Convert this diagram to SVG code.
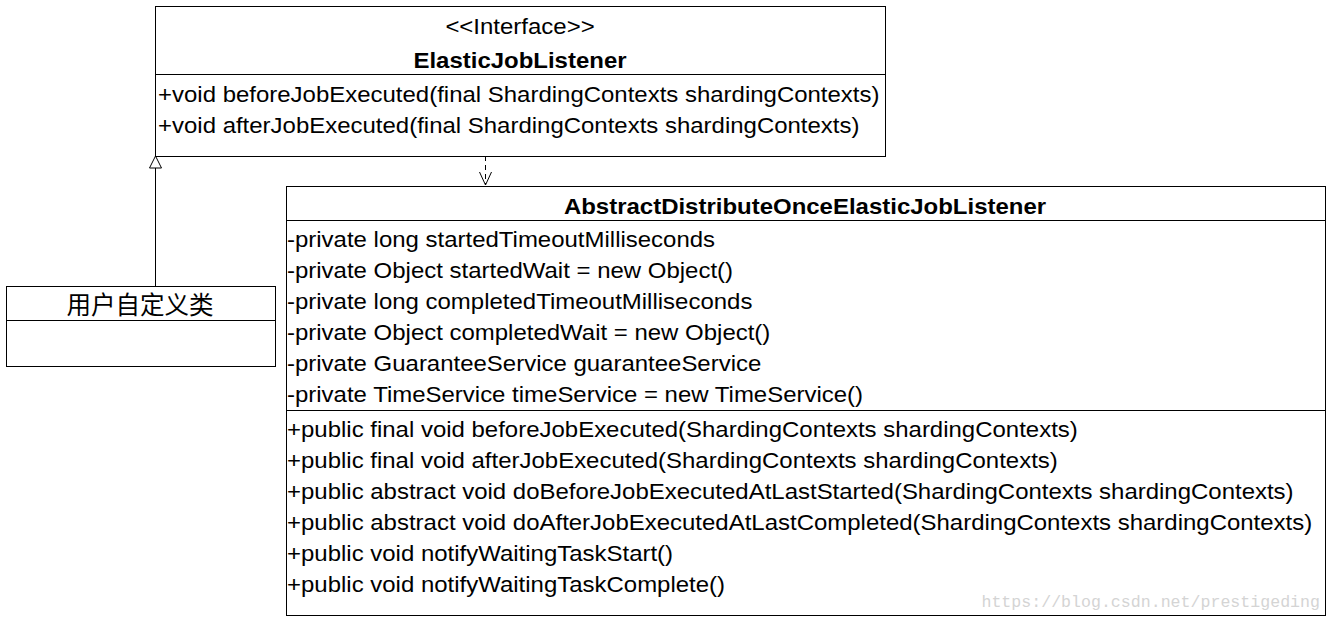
<svg xmlns="http://www.w3.org/2000/svg" width="1332" height="621" viewBox="0 0 1332 621">
<style>
.box{fill:#fff;stroke:#000;stroke-width:1}
.t{font-family:"Liberation Sans",Arial,sans-serif;font-size:22px;fill:#000}
.b{font-weight:bold}
.c{text-anchor:middle}
.ln{stroke:#000;stroke-width:1;fill:none}
</style>
<rect width="1332" height="621" fill="#fff"/>
<g id="connectors">
<line class="ln" x1="155.5" y1="286" x2="155.5" y2="168"/>
<path d="M149.5,168 L155.5,156 L161.5,168 Z" fill="#fff" stroke="#000"/>
<line class="ln" x1="485.5" y1="156" x2="485.5" y2="185" stroke-dasharray="5,4"/>
<path class="ln" d="M479.5,172 L485.5,185 L491.5,172"/>
</g>
<g id="ElasticJobListener">
<rect class="box" x="155.5" y="6.5" width="730" height="150"/>
<line class="ln" x1="155.5" y1="74.5" x2="885.5" y2="74.5"/>
<text class="t c" transform="translate(520,34) scale(1.09,1)">&lt;&lt;Interface&gt;&gt;</text>
<text class="t b c" transform="translate(520,68) scale(1.09,1)">ElasticJobListener</text>
<text class="t" transform="translate(158,102) scale(1.09,1)">+void beforeJobExecuted(final ShardingContexts shardingContexts)</text>
<text class="t" transform="translate(158,133) scale(1.09,1)">+void afterJobExecuted(final ShardingContexts shardingContexts)</text>
</g>
<g id="AbstractDistributeOnceElasticJobListener">
<rect class="box" x="286.5" y="186.5" width="1039" height="429"/>
<line class="ln" x1="286.5" y1="220.5" x2="1325.5" y2="220.5"/>
<line class="ln" x1="286.5" y1="410.5" x2="1325.5" y2="410.5"/>
<text class="t b c" transform="translate(805,214) scale(1.09,1)">AbstractDistributeOnceElasticJobListener</text>
<text class="t" transform="translate(287,247) scale(1.09,1)">-private long startedTimeoutMilliseconds</text>
<text class="t" transform="translate(287,278) scale(1.09,1)">-private Object startedWait = new Object()</text>
<text class="t" transform="translate(287,309) scale(1.09,1)">-private long completedTimeoutMilliseconds</text>
<text class="t" transform="translate(287,340) scale(1.09,1)">-private Object completedWait = new Object()</text>
<text class="t" transform="translate(287,371) scale(1.09,1)">-private GuaranteeService guaranteeService</text>
<text class="t" transform="translate(287,402) scale(1.09,1)">-private TimeService timeService = new TimeService()</text>
<text class="t" transform="translate(287,437) scale(1.09,1)">+public final void beforeJobExecuted(ShardingContexts shardingContexts)</text>
<text class="t" transform="translate(287,468) scale(1.09,1)">+public final void afterJobExecuted(ShardingContexts shardingContexts)</text>
<text class="t" transform="translate(287,499) scale(1.09,1)">+public abstract void doBeforeJobExecutedAtLastStarted(ShardingContexts shardingContexts)</text>
<text class="t" transform="translate(287,530) scale(1.09,1)">+public abstract void doAfterJobExecutedAtLastCompleted(ShardingContexts shardingContexts)</text>
<text class="t" transform="translate(287,561) scale(1.09,1)">+public void notifyWaitingTaskStart()</text>
<text class="t" transform="translate(287,592) scale(1.09,1)">+public void notifyWaitingTaskComplete()</text>
</g>
<g id="UserClass">
<rect class="box" x="6.5" y="286.5" width="269" height="80"/>
<line class="ln" x1="6.5" y1="320.5" x2="275.5" y2="320.5"/>
<text x="140" y="314" text-anchor="middle" style="font-family:'Noto Sans CJK SC',sans-serif;font-size:24.5px;font-weight:400;fill:#000">用户自定义类</text>
</g>
<text x="1320" y="607" style="font-family:'Liberation Mono','DejaVu Sans Mono',monospace;font-size:16.6px;fill:#d4d4d4;text-anchor:end">https://blog.csdn.net/prestigeding</text>
</svg>
